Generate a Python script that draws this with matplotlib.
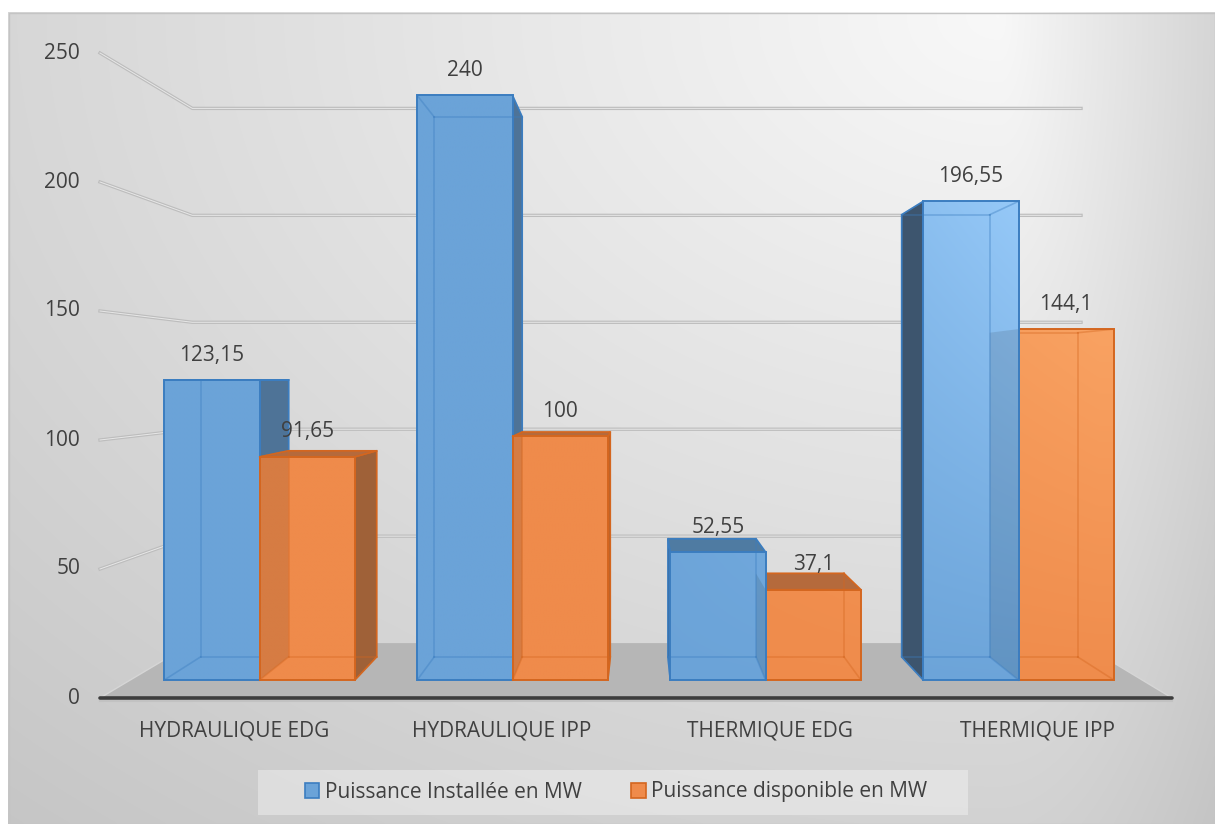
import numpy as np
import matplotlib
matplotlib.use("Agg")
import matplotlib.pyplot as plt
from matplotlib.patches import Polygon, Rectangle, Patch
from matplotlib.colors import to_rgb

# ---------------- data ----------------
categories = ["HYDRAULIQUE EDG", "HYDRAULIQUE IPP", "THERMIQUE EDG", "THERMIQUE IPP"]
installee = [123.15, 240, 52.55, 196.55]
disponible = [91.65, 100, 37.1, 144.1]
series_names = ["Puissance Installée en MW", "Puissance disponible en MW"]
y_ticks = [0, 50, 100, 150, 200, 250]

plt.rcParams['font.family'] = ['Open Sans', 'DejaVu Sans']
FS = 15
TXT = '#404040'

W, H = 1215, 824
fig = plt.figure(figsize=(W / 100, H / 100), dpi=100)
ax = fig.add_axes([0, 0, 1, 1])

# ---------------- background gradient ----------------
gx = np.linspace(8, W, 600)
gy = np.linspace(12, H, 400)
GX, GY = np.meshgrid(gx, gy)
cx, cy = 1000, 15
axx = np.where(GX < cx, 1250.0, 260.0)
t = np.sqrt(((GX - cx) / axx) ** 2 + ((GY - cy) / 900.0) ** 2)
L = np.clip(0.973 - 0.165 * t, 0, 1)
ax.imshow(np.dstack([L, L, L]), extent=(8, W, H, 12), origin='upper',
          aspect='auto', interpolation='bilinear', zorder=0)
ax.add_patch(Rectangle((8.5, 12.5), W - 9, H - 13, fill=False, ec='#c4c4c4', lw=1, zorder=0.5))

# ---------------- 3D scene layout (perspective projection) ----------------
X0, CAT_W = 100.0, 268.0      # floor front-left x and category pitch
V0, VPX = 698.0, 2.58         # baseline y and px per unit at front plane
XV, YH = 640.0, 377.0         # vanishing x and horizon y
S_FLOOR, S_BF, S_BB, S_WALL = 1.0, 0.944, 0.872, 0.829
BAR_OFF, BAR_W = 36 / 268, 101 / 268
n = len(categories)


def proj(xc, v, s):
    px = X0 + xc * CAT_W
    py = V0 - v * VPX
    return (XV + (px - XV) * s, YH + (py - YH) * s)


# gridlines (side wall + back wall)
for v in y_ticks[1:]:
    pts = [proj(0, v, S_FLOOR), proj(0, v, S_WALL), proj(n, v, S_WALL)]
    xs, ys = zip(*pts)
    ax.plot(xs, ys, color='#bdbdbd', lw=2.4, solid_joinstyle='round', zorder=1)
    ax.plot(xs, ys, color='#f2f2f2', lw=0.7, alpha=0.8, zorder=1.1)

# floor
floor = [proj(0, 0, S_FLOOR), proj(n, 0, S_FLOOR), proj(n, 0, S_WALL), proj(0, 0, S_WALL)]
ax.add_patch(Polygon(floor, closed=True, fc='#b6b6b6', ec='none', zorder=2))
for xc in (0, n):
    a, b = proj(xc, 0, S_FLOOR), proj(xc, 0, S_WALL)
    ax.plot([a[0], b[0]], [a[1], b[1]], color='#d6d6d6', lw=1.0, zorder=2.1)
a, b = proj(0, 0, S_FLOOR), proj(n, 0, S_FLOOR)
ax.plot([a[0], b[0]], [a[1] + 3, b[1] + 3], color='#c2c2c2', lw=1.5, zorder=2.1)
ax.plot([a[0], b[0]], [a[1], b[1]], color='#3d3d3d', lw=2.6, solid_capstyle='round', zorder=2.2)

# y tick labels
for v in y_ticks:
    x, y = proj(0, v, S_FLOOR)
    ax.text(x - 20, y, f"{v}", ha='right', va='center', fontsize=FS, color=TXT, zorder=20)

# category labels
for i, c in enumerate(categories):
    x, y = proj(i + 0.5, 0, S_FLOOR)
    ax.text(x, y + 33, c, ha='center', va='center', fontsize=FS, color=TXT, zorder=20)

# ---------------- bars ----------------
series = [installee, disponible]
styles = [
    dict(front='#6ba3d8', hl='#9ed0fe', edge='#3b7dc0', side_r='#4e7397', side_l='#3d556e', top='#4f7ba2'),
    dict(front='#ef8b4b', hl='#fcaa6a', edge='#d4661f', side_r='#9f6138', side_l='#7e4a2a', top='#b56a3c'),
]


def light(GXp, GYp):
    return np.clip((GXp - 600) / 500, 0, 1) * np.clip((700 - GYp) / 500, 0, 1)


bars = []
for j, vals in enumerate(series):
    for i, v in enumerate(vals):
        xl = i + BAR_OFF + j * BAR_W
        bars.append((j, i, xl, xl + BAR_W, v))
bars.sort(key=lambda b: -abs(X0 + (b[2] + b[3]) / 2 * CAT_W - XV))

drawn_sides = []
z = 3.0
for j, i, xl, xr, v in bars:
    st = styles[j]

    def F(x, y):
        return proj(x, y, S_BF)

    def B(x, y):
        return proj(x, y, S_BB)

    back = [B(xl, 0), B(xr, 0), B(xr, v), B(xl, v)]
    front = [F(xl, 0), F(xr, 0), F(xr, v), F(xl, v)]
    ax.add_patch(Polygon(back, fc=st['front'], ec='none', zorder=z))

    pxl, pxr = X0 + xl * CAT_W, X0 + xr * CAT_W
    side = None
    if pxr < XV:
        side, sc = [F(xr, 0), B(xr, 0), B(xr, v), F(xr, v)], st['side_r']
    elif pxl > XV:
        side, sc = [F(xl, 0), B(xl, 0), B(xl, v), F(xl, v)], st['side_l']
    if side is not None:
        ax.add_patch(Polygon(side, fc=sc, ec=st['edge'], lw=1.1, zorder=z + 0.1))
    if V0 - v * VPX > YH:
        top = [F(xl, v), F(xr, v), B(xr, v), B(xl, v)]
        ax.add_patch(Polygon(top, fc=st['top'], ec=st['edge'], lw=1.1, zorder=z + 0.2))

    # shaded front face
    clip = Polygon(front, closed=True, fc='none', ec='none', zorder=z + 0.3)
    ax.add_patch(clip)
    fx = [p[0] for p in front]
    fy = [p[1] for p in front]
    x0, x1, y0, y1 = min(fx), max(fx), min(fy), max(fy)
    FGX, FGY = np.meshgrid(np.linspace(x0, x1, 40), np.linspace(y0, y1, 120))
    base = np.array(to_rgb(st['front']))
    hl = np.array(to_rgb(st['hl']))
    img = base + (hl - base) * light(FGX, FGY)[..., None]
    im = ax.imshow(np.clip(img, 0, 1), extent=(x0, x1, y1, y0), origin='upper', aspect='auto',
                   interpolation='bilinear', zorder=z + 0.3)
    im.set_clip_path(clip)

    # farther bars' side faces seen through the front face
    for sp in drawn_sides:
        ov = Polygon(sp, fc=(0, 0, 0, 0.10), ec='none', zorder=z + 0.35)
        ax.add_patch(ov)
        ov.set_clip_path(clip)

    hidden = [(B(xl, 0), B(xr, 0)), (B(xr, 0), B(xr, v)), (B(xr, v), B(xl, v)), (B(xl, v), B(xl, 0)),
              (F(xl, 0), B(xl, 0)), (F(xr, 0), B(xr, 0)), (F(xl, v), B(xl, v)), (F(xr, v), B(xr, v))]
    for p, q in hidden:
        ax.plot([p[0], q[0]], [p[1], q[1]], color=st['edge'], lw=1.2, alpha=0.4, zorder=z + 0.4)
    ax.add_patch(Polygon(front, fill=False, ec=st['edge'], lw=1.4, zorder=z + 0.5))
    if side is not None:
        drawn_sides.append(side)
    z += 1

# value labels
for j, vals in enumerate(series):
    for i, v in enumerate(vals):
        xl = i + BAR_OFF + j * BAR_W
        x, y = proj(xl + BAR_W / 2, v, S_BF)
        ax.text(x, y - 25, f"{v:g}".replace('.', ','), ha='center', va='center',
                fontsize=FS, color=TXT, zorder=20)

# ---------------- legend ----------------
ax.add_patch(Rectangle((258, 770), 710, 45, fc=(1, 1, 1, 0.35), ec='none', zorder=5))
handles = [Patch(facecolor=styles[k]['front'], edgecolor=styles[k]['edge'], lw=1.2, label=series_names[k])
           for k in range(2)]
leg = ax.legend(handles=handles, loc='center', bbox_to_anchor=(616 / W, 1 - 792 / H),
                bbox_transform=fig.transFigure, ncol=2, frameon=False, fontsize=FS,
                handlelength=0.7, handleheight=0.7, handletextpad=0.25, columnspacing=2.4,
                labelcolor=TXT, borderpad=0.2)
leg.set_zorder(21)

ax.set_xlim(0, W)
ax.set_ylim(H, 0)
ax.axis('off')

fig.savefig('out.png', dpi=100, facecolor='white')
